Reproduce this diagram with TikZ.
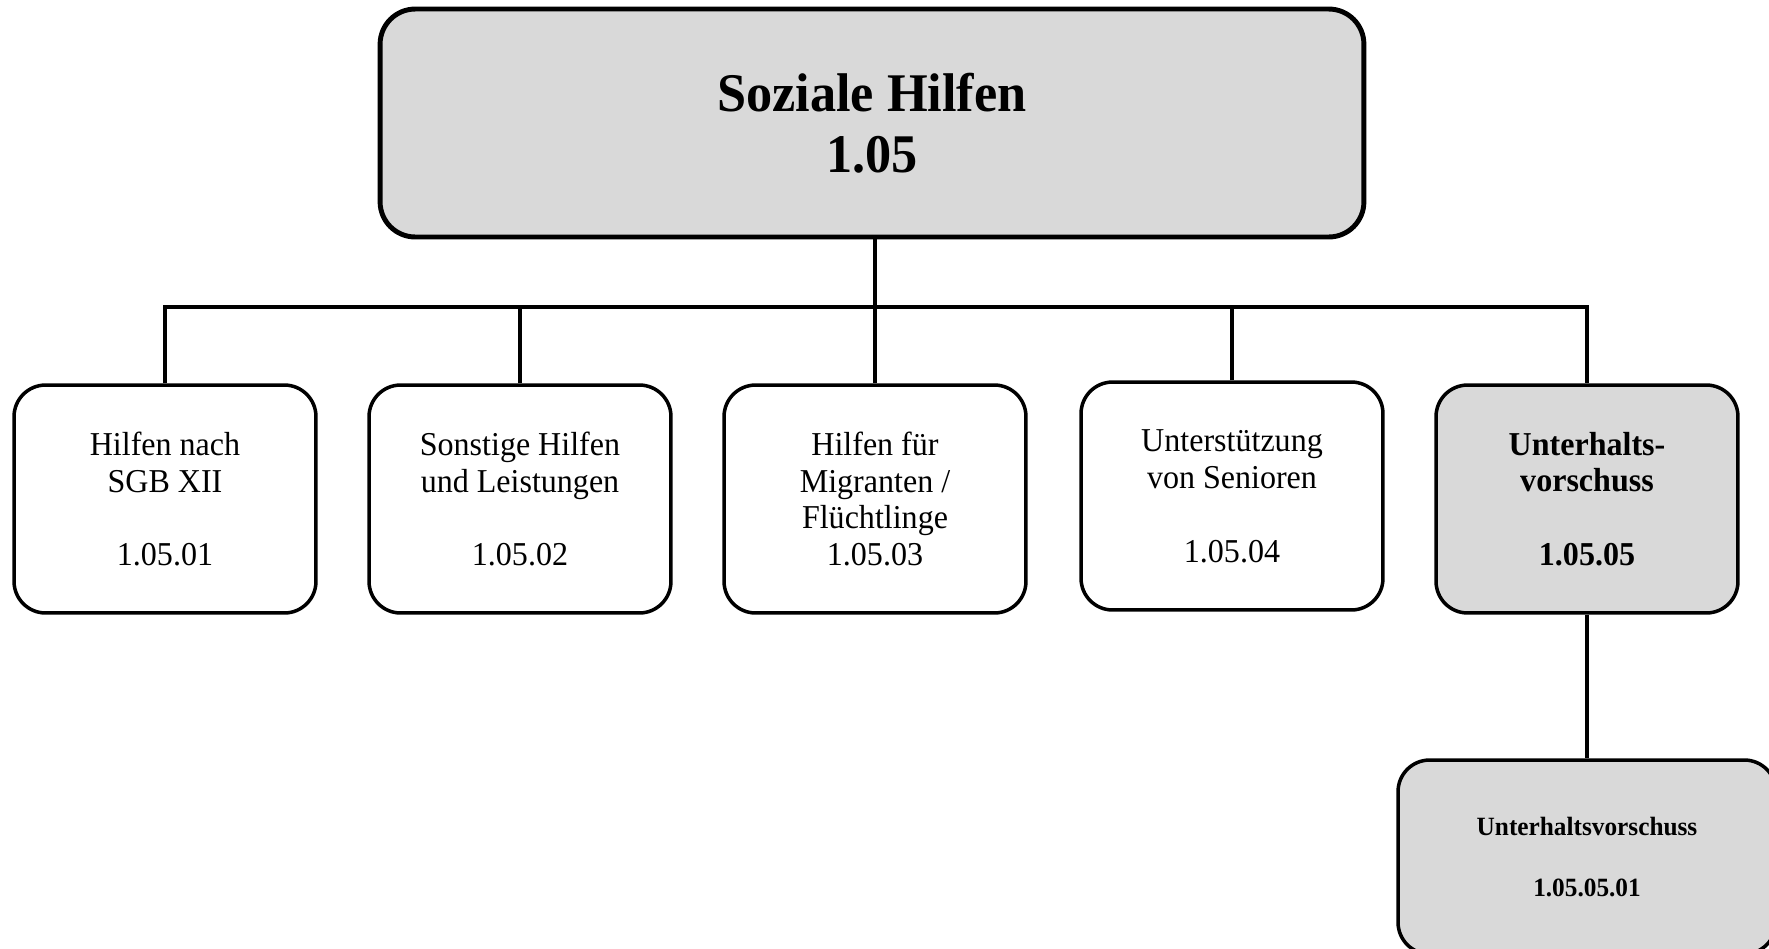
\documentclass[tikz,border=0pt]{standalone}
\usepackage{fontspec}
\setmainfont[FakeStretch=0.96]{Liberation Serif}
\usepackage{tikz}
\usetikzlibrary{calc}
\definecolor{boxgray}{RGB}{217, 217, 217}
\tikzset{
  unit/.style={draw, line width=2pt, rounded corners=18pt, align=center,
    minimum width=6.04cm, minimum height=4.56cm, inner sep=0pt,
    font=\fontsize{19}{21}\selectfont},
  unitgray/.style={unit, fill=boxgray, font=\fontsize{19}{21}\selectfont\bfseries},
  link/.style={line width=1.9pt}
}
\begin{document}
\begin{tikzpicture}[x=0.02cm, y=-0.02cm]
\useasboundingbox (0,0) rectangle (1769,948);

\node[unit, fill=boxgray, line width=2.8pt, rounded corners=20pt, minimum width=19.68cm,
  font=\fontsize{31}{35}\selectfont\bfseries] (main) at (872,123) {Soziale Hilfen\\1.05};

\node[unit] (u1) at (165,499) {Hilfen nach\\SGB XII\\[21pt]1.05.01};
\node[unit] (u2) at (520,499) {Sonstige Hilfen\\und Leistungen\\[21pt]1.05.02};
\node[unit] (u3) at (875,499) {Hilfen für\\Migranten /\\Flüchtlinge\\1.05.03};
\node[unit] (u4) at (1232,496) {Unterstützung\\von Senioren\\[21pt]1.05.04};
\node[unitgray] (u5) at (1587,499) {Unterhalts-\\vorschuss\\[21pt]1.05.05};

\node[unitgray, minimum width=7.56cm, minimum height=3.88cm,
  font=\fontsize{15}{17.5}\selectfont\bfseries] (u51) at (1587,857) {Unterhaltsvorschuss\\[17.5pt]1.05.05.01};

\coordinate (bus) at (0,307);
\draw[link] (u3.north |- main.south) -- (u3.north);
\draw[link] (u1.north) -- (u1.north |- bus) -- (u5.north |- bus) -- (u5.north);
\draw[link] (u2.north) -- (u2.north |- bus);
\draw[link] (u4.north) -- (u4.north |- bus);
\draw[link] (u5.south) -- (u51.north);
\end{tikzpicture}
\end{document}
